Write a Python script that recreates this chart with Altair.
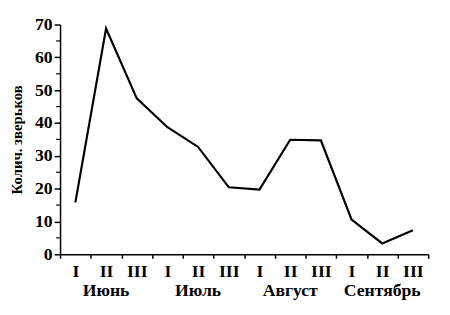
import altair as alt
import pandas as pd

months = ["Июнь", "Июль", "Август", "Сентябрь"]
dekads = ["I", "II", "III"]
values = [15.8, 68.8, 47.5, 38.7, 32.7, 20.4, 19.7, 34.9, 34.7, 10.6, 3.3, 7.3]
y_major = [0, 10, 20, 30, 40, 50, 60, 70]
y_minor = [5, 15, 25, 35, 45, 55, 65]

cats = [f"{m} {d}" for m in months for d in dekads]
df = pd.DataFrame({"cat": cats, "value": values})
mdf = pd.DataFrame({"cat": [f"{m} II" for m in months], "month": months})
minor_df = pd.DataFrame({"v": y_minor})

FONT = "Liberation Serif"
W, H = 375, 234

x_axis = alt.Axis(
    title=None,
    labelExpr="split(datum.label, ' ')[1]",
    labelAngle=0,
    labelOverlap=False,
    tickBand="extent",
    tickSize=4,
    labelPadding=5,
    labelFont=FONT,
    labelFontSize=18,
    labelFontWeight="bold",
    labelColor="black",
    domainColor="black",
    tickColor="black",
    domainWidth=1.5,
    tickWidth=1.5,
    grid=False,
)
y_axis = alt.Axis(
    title="Колич. зверьков",
    values=y_major,
    labelOverlap=False,
    tickSize=6,
    labelPadding=2,
    labelFont=FONT,
    labelFontSize=18,
    labelFontWeight="bold",
    labelColor="black",
    titleFont=FONT,
    titleFontSize=15,
    titleFontWeight="bold",
    titleColor="black",
    titlePadding=10,
    domainColor="black",
    tickColor="black",
    domainWidth=1.5,
    tickWidth=1.5,
    grid=False,
)
x_scale = alt.Scale(paddingInner=0, paddingOuter=0)
y_scale = alt.Scale(domain=[0, 70], nice=False)

line = alt.Chart(df).mark_line(color="black", strokeWidth=2.2).encode(
    x=alt.X("cat:N", sort=cats, scale=x_scale, axis=x_axis),
    y=alt.Y("value:Q", scale=y_scale, axis=y_axis, title="Колич. зверьков"),
)

minor = alt.Chart(minor_df).mark_rule(color="black", strokeWidth=1.2).encode(
    y=alt.Y("v:Q", scale=y_scale, axis=y_axis, title="Колич. зверьков"),
    x=alt.value(-4),
    x2=alt.value(0),
)

month_text = alt.Chart(mdf).mark_text(
    font=FONT, fontSize=18, fontWeight="bold", color="black", baseline="middle"
).encode(
    x=alt.X("cat:N", sort=cats, scale=x_scale, axis=x_axis, title=None),
    y=alt.value(H + 37),
    text="month:N",
)

chart = (
    alt.layer(line, minor, month_text)
    .properties(
        width=W,
        height=H,
        background="white",
        autosize=alt.AutoSizeParams(type="none"),
        padding={"left": 53, "top": 14, "right": 14, "bottom": 59},
    )
    .configure_view(strokeWidth=0, stroke="transparent")
)

chart.save("out.html", embed_options={"renderer": "svg", "actions": False})
